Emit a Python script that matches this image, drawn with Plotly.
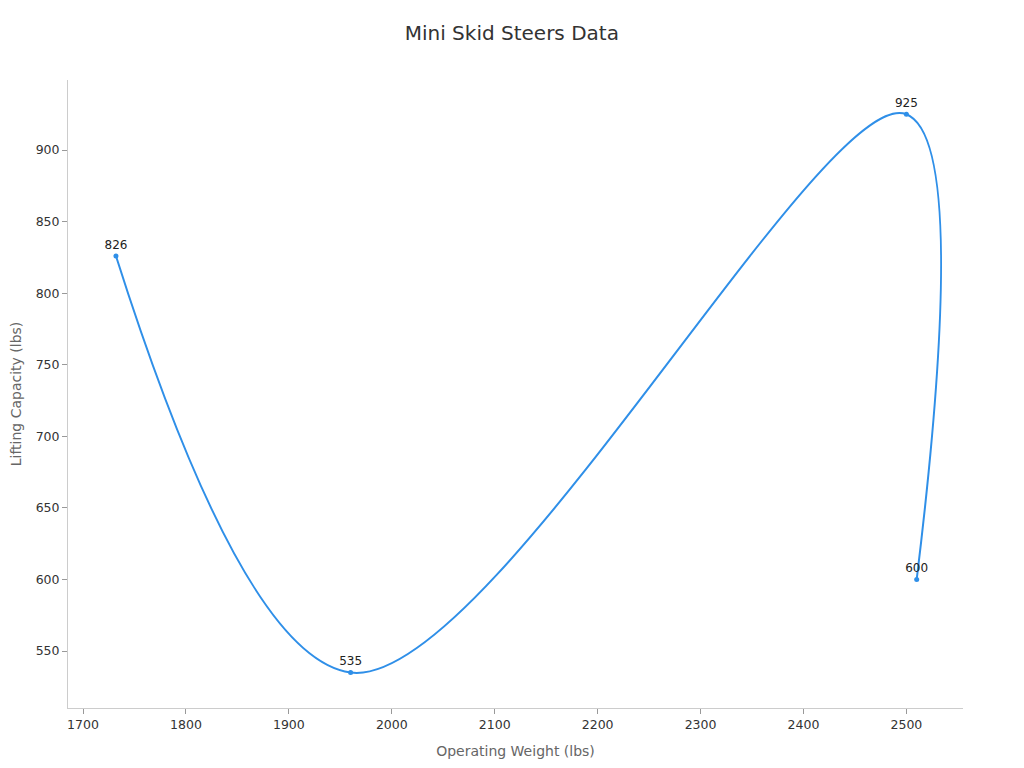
import plotly.graph_objects as go

operating_weight = [1732, 1960, 2500, 2510]
lifting_capacity = [826, 535, 925, 600]
point_labels = ["826", "535", "925", "600"]

fig = go.Figure()

fig.add_trace(go.Scatter(
    x=operating_weight,
    y=lifting_capacity,
    mode="lines+markers+text",
    text=point_labels,
    textposition="top center",
    textfont=dict(size=12, color="#222"),
    line=dict(color="#2f8fe8", width=2, shape="spline"),
    marker=dict(size=5, color="#2f8fe8"),
    showlegend=False,
))

fig.update_layout(
    title=dict(text="Mini Skid Steers Data", x=0.492, y=0.976, xanchor="center", yanchor="top",
               font=dict(size=20, color="#333")),
    font=dict(family="DejaVu Sans, sans-serif", size=12, color="#333"),
    plot_bgcolor="white",
    paper_bgcolor="white",
    width=1024,
    height=768,
    margin=dict(l=60, r=69, t=72, b=68),
    xaxis=dict(
        title=dict(text="Operating Weight (lbs)", font=dict(size=14, color="#666")),
        range=[1685.4, 2555],
        dtick=100,
        tickfont=dict(size=12.5),
        showgrid=False,
        zeroline=False,
        showline=True,
        linecolor="#ccc",
        ticks="outside",
        tickcolor="#999",
        ticklen=5,
        automargin=False,
    ),
    yaxis=dict(
        title=dict(text="Lifting Capacity (lbs)", font=dict(size=14, color="#666")),
        range=[510.2, 948.9],
        dtick=50,
        tickfont=dict(size=12.5),
        showgrid=False,
        zeroline=False,
        showline=True,
        linecolor="#ccc",
        ticks="outside",
        tickcolor="#999",
        ticklen=5,
        automargin=False,
    ),
)

fig.write_html("out.html")
